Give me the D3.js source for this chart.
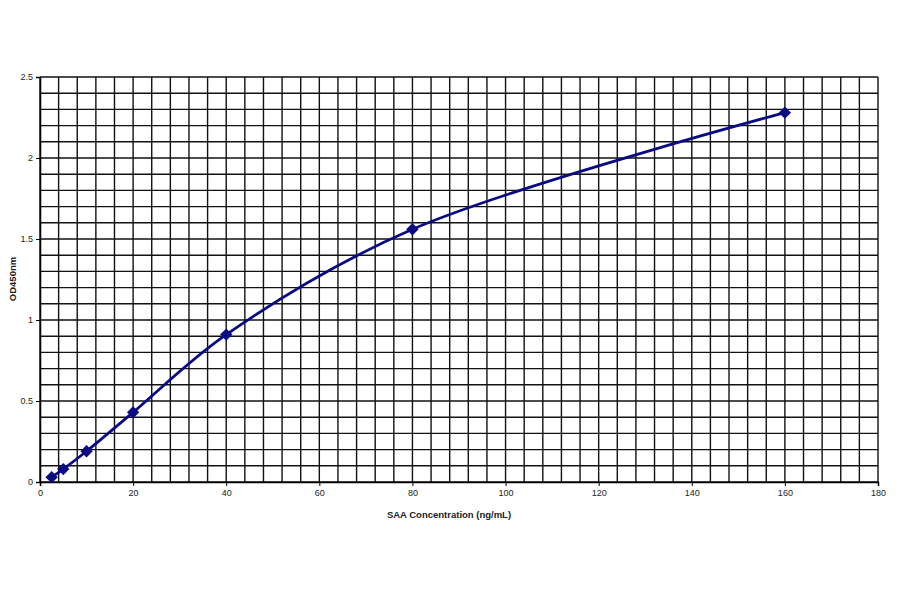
<html>
<head>
<meta charset="utf-8">
<script src="https://cdn.jsdelivr.net/npm/d3@7/dist/d3.min.js"></script>
<style>
body { margin: 0; background: white; }
svg { background-color: white; }
text { font-family: "Liberation Sans", Arial, sans-serif; fill: #222; }
.grid line { stroke: #111; stroke-width: 1.4; }
</style>
</head>
<body>
<div id="container"></div>
<script>
// standard curve points
var concentrations = [2.5, 5, 10, 20, 40, 80, 160];
var odValues = [0.03, 0.08, 0.19, 0.43, 0.91, 1.56, 2.28];

var xTicks = [0, 20, 40, 60, 80, 100, 120, 140, 160, 180];
var yTicks = [0, 0.5, 1, 1.5, 2, 2.5];
var yTickLabels = ["0", "0.5", "1", "1.5", "2", "2.5"];

var xTitle = "SAA Concentration (ng/mL)";
var yTitle = "OD450nm";

var width = 900, height = 594;
// plot box (window.top is taken, so prefix these)
var plotLeft = 40, plotRight = 878, plotTop = 77, plotBottom = 482;

var svg = d3.select("#container").append("svg")
    .attr("width", width)
    .attr("height", height);

var x = d3.scaleLinear().domain([0, 180]).range([plotLeft, plotRight]);
var y = d3.scaleLinear().domain([0, 2.5]).range([plotBottom, plotTop]);

// the dense grid: every 4 units across, every 0.1 up
var grid = svg.append("g").attr("class", "grid");
grid.selectAll("line.v")
    .data(d3.range(0, 181, 4))
    .enter().append("line")
    .attr("class", "v")
    .attr("x1", function(d) { return x(d); })
    .attr("x2", function(d) { return x(d); })
    .attr("y1", y(0))
    .attr("y2", y(2.5));
grid.selectAll("line.h")
    .data(d3.range(0, 26).map(function(i) { return i / 10; }))
    .enter().append("line")
    .attr("class", "h")
    .attr("x1", x(0))
    .attr("x2", x(180))
    .attr("y1", function(d) { return y(d); })
    .attr("y2", function(d) { return y(d); });

// axes
var xAxis = d3.axisBottom(x).tickValues(xTicks).tickSize(4).tickPadding(4)
    .tickFormat(d3.format("d"));
var gx = svg.append("g")
    .attr("transform", "translate(0," + plotBottom + ")")
    .call(xAxis);

var yAxis = d3.axisLeft(y).tickValues(yTicks).tickSize(4).tickPadding(3)
    .tickFormat(function(d, i) { return yTickLabels[i]; });
var gy = svg.append("g")
    .attr("transform", "translate(" + plotLeft + ",0)")
    .call(yAxis);

[gx, gy].forEach(function(g) {
    g.select(".domain").attr("stroke", "#000").attr("stroke-width", 1.5);
    g.selectAll(".tick line").attr("stroke", "#000").attr("stroke-width", 1);
    g.selectAll(".tick text")
        .attr("font-family", "Liberation Sans, Arial, sans-serif")
        .attr("font-size", 9)
        .attr("fill", "#222");
});

// axis titles
svg.append("text")
    .attr("x", 449)
    .attr("y", 518)
    .attr("text-anchor", "middle")
    .attr("font-size", 9.5)
    .attr("font-weight", "bold")
    .text(xTitle);

svg.append("text")
    .attr("transform", "translate(16,279) rotate(-90)")
    .attr("text-anchor", "middle")
    .attr("font-size", 9.5)
    .attr("font-weight", "bold")
    .text(yTitle);

// curve
var pts = concentrations.map(function(c, i) { return [c, odValues[i]]; });
var line = d3.line()
    .x(function(d) { return x(d[0]); })
    .y(function(d) { return y(d[1]); })
    .curve(d3.curveCatmullRom.alpha(0.5));

svg.append("path")
    .datum(pts)
    .attr("fill", "none")
    .attr("stroke", "#0a0a85")
    .attr("stroke-width", 2.8)
    .attr("d", line);

svg.selectAll("path.pt")
    .data(pts)
    .enter().append("path")
    .attr("class", "pt")
    .attr("d", d3.symbol(d3.symbolSquare, 76))
    .attr("transform", function(d) {
        return "translate(" + x(d[0]) + "," + y(d[1]) + ") rotate(45)";
    })
    .attr("fill", "#0a0a85");
</script>
</body>
</html>
